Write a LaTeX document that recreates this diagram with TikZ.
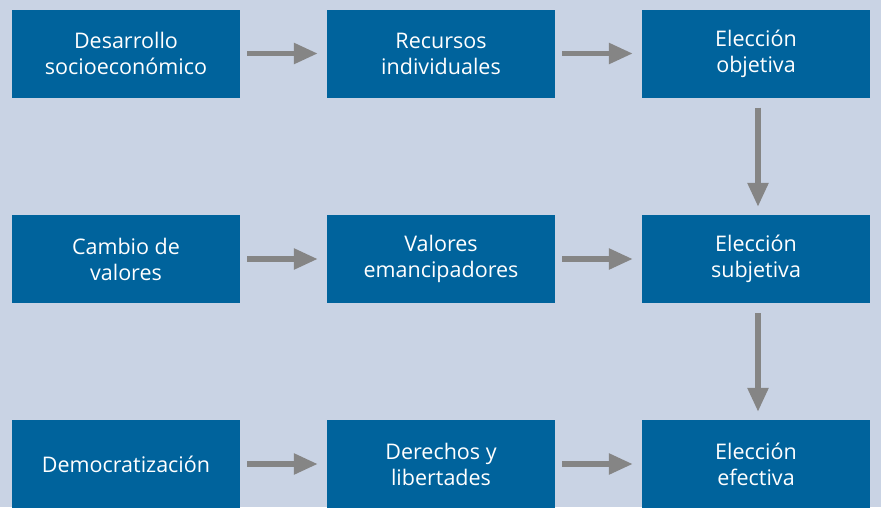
\documentclass[tikz,border=0pt]{standalone}
\usepackage{fontspec}
\setmainfont{Open Sans}
\usetikzlibrary{arrows.meta}
\definecolor{bg}{HTML}{C9D3E4}
\definecolor{boxblue}{HTML}{00639C}
\definecolor{arrgray}{HTML}{858585}
\begin{document}
\begin{tikzpicture}[x=1pt,y=-1pt,
  stepbox/.style={fill=boxblue,draw=none,minimum width=228pt,minimum height=88pt,inner sep=0pt,
    text=white,align=center,font=\fontsize{21.5}{26}\selectfont},
  flow/.style={draw=arrgray,line width=5.5pt,-{Triangle[length=24pt,width=20pt]}}]
\fill[bg] (0,0) rectangle (881,507);
\useasboundingbox (0,0) rectangle (881,507);
\node[stepbox] (a1) at (126,53.5) {Desarrollo\\socioeconómico};
\node[stepbox] (a2) at (441,53.5) {Recursos\\individuales};
\node[stepbox] (a3) at (756,53.5) {Elección\\objetiva};
\node[stepbox] (b1) at (126,259) {Cambio de\\valores};
\node[stepbox] (b2) at (441,259) {Valores\\emancipadores};
\node[stepbox] (b3) at (756,259) {Elección\\subjetiva};
\node[stepbox] (c1) at (126,464) {Democratización};
\node[stepbox] (c2) at (441,464) {Derechos y\\libertades};
\node[stepbox] (c3) at (756,464) {Elección\\efectiva};
\foreach \u/\v in {a1/a2,a2/a3,b1/b2,b2/b3,c1/c2,c2/c3}{
  \draw[flow] ([xshift=7pt]\u.east) -- ([xshift=-9pt]\v.west);
}
\draw[flow] ([xshift=2pt,yshift=-10pt]a3.south) -- ([xshift=2pt,yshift=8pt]b3.north);
\draw[flow] ([xshift=2pt,yshift=-10pt]b3.south) -- ([xshift=2pt,yshift=8pt]c3.north);
\end{tikzpicture}
\end{document}
